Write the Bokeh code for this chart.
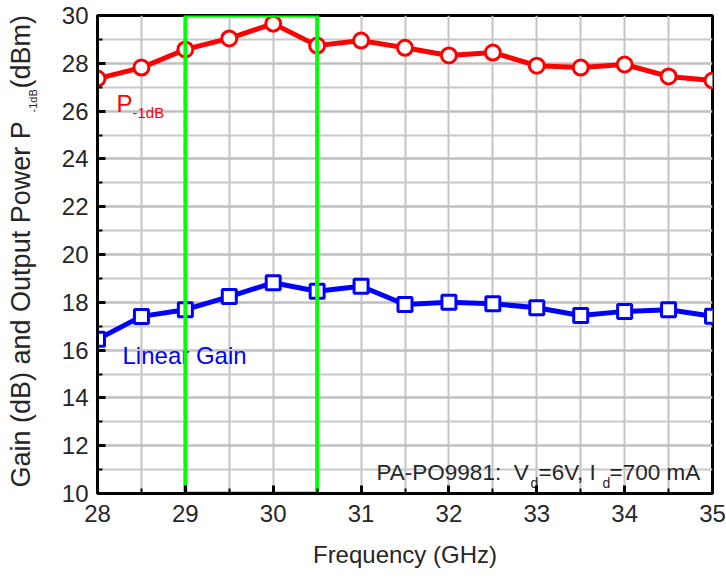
import math
from bokeh.plotting import figure
from bokeh.layouts import row
from bokeh.models import FixedTicker, Range1d
from bokeh.core.properties import value
from bokeh.embed import file_html
from bokeh.resources import INLINE

# ---- data ----
freq = [28.0, 28.5, 29.0, 29.5, 30.0, 30.5, 31.0, 31.5, 32.0, 32.5, 33.0, 33.5, 34.0, 34.5, 35.0]
p1db = [27.36, 27.82, 28.58, 29.04, 29.66, 28.74, 28.95, 28.65, 28.33, 28.45, 27.90, 27.82, 27.95, 27.45, 27.28]
gain = [16.45, 17.41, 17.69, 18.24, 18.82, 18.46, 18.67, 17.91, 18.00, 17.94, 17.77, 17.45, 17.62, 17.69, 17.42]

x_ticks = [28, 29, 30, 31, 32, 33, 34, 35]
x_minor = [28.5, 29.5, 30.5, 31.5, 32.5, 33.5, 34.5]
y_ticks = [10, 12, 14, 16, 18, 20, 22, 24, 26, 28, 30]
y_minor = [11, 13, 15, 17, 19, 21, 23, 25, 27, 29]
band = [29.0, 30.5]   # highlighted frequency band

FONT = "Liberation Sans"
TXT = "#262626"

W, H = 726, 578
LW = 45                      # width of the side strip holding the y-axis title
L, R, T, B = 97, 712, 15, 493
X0, X1, Y0, Y1 = 28, 35, 10, 30


def dx(px):
    return X0 + (px - L) * (X1 - X0) / (R - L)


def dy(py):
    return Y1 - (py - T) * (Y1 - Y0) / (B - T)


p = figure(width=W - LW, height=H, x_range=Range1d(X0, X1), y_range=Range1d(Y0, Y1),
           output_backend="svg", toolbar_location=None,
           min_border_left=L - LW, min_border_right=W - R, min_border_top=T,
           min_border_bottom=H - B)
p.background_fill_color = "white"
p.border_fill_color = "white"
p.outline_line_color = "black"
p.outline_line_width = 3

p.xaxis.ticker = FixedTicker(ticks=x_ticks, minor_ticks=x_minor)
p.yaxis.ticker = FixedTicker(ticks=y_ticks, minor_ticks=y_minor)

for ax in (p.xaxis, p.yaxis):
    ax.axis_line_color = "black"
    ax.axis_line_width = 3
    ax.major_tick_in = 8
    ax.major_tick_out = 0
    ax.minor_tick_in = 5
    ax.minor_tick_out = 0
    ax.major_tick_line_width = 3
    ax.minor_tick_line_width = 2
    ax.major_tick_line_color = "black"
    ax.minor_tick_line_color = "black"
    ax.major_label_text_font = FONT
    ax.major_label_text_font_size = "24px"
    ax.major_label_text_color = TXT

p.xaxis.major_label_standoff = 11
p.yaxis.major_label_standoff = 9
p.xaxis.axis_label = "Frequency (GHz)"
p.xaxis.axis_label_text_font = FONT
p.xaxis.axis_label_text_font_size = "24px"
p.xaxis.axis_label_text_font_style = "normal"
p.xaxis.axis_label_text_color = TXT
p.xaxis.axis_label_standoff = 16

p.xgrid.grid_line_color = "#c4c4c4"
p.xgrid.grid_line_width = 2
p.xgrid.minor_grid_line_color = "#c4c4c4"
p.xgrid.minor_grid_line_width = 2
p.ygrid.grid_line_color = "#c0c0c0"
p.ygrid.grid_line_width = 2.5
p.ygrid.minor_grid_line_color = "#c8c8c8"
p.ygrid.minor_grid_line_width = 2

# series
p.line(freq, p1db, line_color="#ff0000", line_width=5)
p.scatter(freq, p1db, marker="circle", size=15, fill_color="white",
          line_color="#ff0000", line_width=3)
p.line(freq, gain, line_color="#0000ff", line_width=5)
p.scatter(freq, gain, marker="square", size=14, fill_color="white",
          line_color="#0000ff", line_width=3)

# in-plot texts
def ptext(px, py, s, size, color):
    p.text(x=[dx(px)], y=[dy(py)], text=[s], text_font=value(FONT),
           text_font_size=value(size), text_color=color,
           text_align="left", text_baseline="alphabetic")

ptext(116, 103, "P", "24px", "#ff0000")
ptext(132, 112, "-1dB", "15px", "#ff0000")
ptext(122, 355, "Linear Gain", "24px", "#0000ff")
ptext(376, 472, "PA-PO9981:\u00a0 V", "22.5px", TXT)
ptext(530, 482, "d", "14px", TXT)
ptext(538, 472, "=6V, I", "22.5px", TXT)
ptext(602, 482, "d", "14px", TXT)
ptext(609, 472, "=700 mA", "22.5px", TXT)

# green band rectangle
p.quad(left=[band[0]], right=[band[1]], bottom=[Y0], top=[Y1], fill_alpha=0,
       line_color="#00ff00", line_width=4)

# ---- side strip with the rotated y-axis title ----
# (its frame is aligned with the main frame by the row layout, so it shares the y scale)
side = figure(width=LW, height=H, x_range=Range1d(0, LW), y_range=Range1d(Y0, Y1),
              output_backend="svg", toolbar_location=None,
              x_axis_type=None, y_axis_type=None, min_border=0,
              min_border_top=T, min_border_bottom=H - B)
side.outline_line_color = None
side.grid.visible = False
side.background_fill_color = "white"
side.border_fill_color = "white"


def stext(bx, py, s, size):
    side.text(x=[bx], y=[dy(py)], text=[s], angle=math.pi / 2,
              text_font=value(FONT), text_font_size=value(size), text_color=TXT,
              text_align="left", text_baseline="alphabetic")


stext(20, 487, "Gain (dB) and Output Power P", "27px")
stext(32, 112, "-1dB", "11px")
stext(20, 88, "(dBm)", "27px")

layout = row(side, p, spacing=0)
open("out.html", "w").write(file_html(layout, INLINE))
